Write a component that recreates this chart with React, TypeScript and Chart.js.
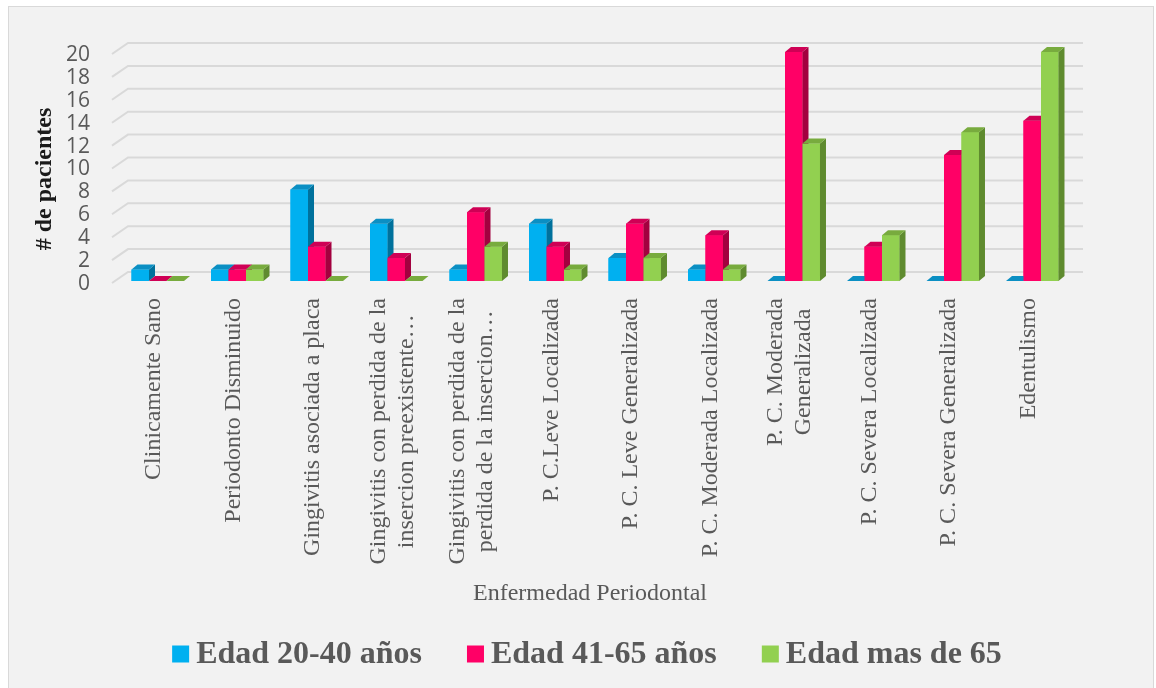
import React, { useEffect, useRef } from "react";
import { Chart, registerables } from "chart.js";

Chart.register(...registerables);

// Periodontal condition categories (multi-line entries are wrapped labels)
const categories: (string | string[])[] = [
  "Clinicamente Sano",
  "Periodonto Disminuido",
  "Gingivitis asociada a placa",
  ["Gingivitis con perdida de la", "insercion preexistente…"],
  ["Gingivitis con perdida de la", "perdida de la insercion…"],
  "P. C.Leve Localizada",
  "P. C. Leve Generalizada",
  "P. C. Moderada Localizada",
  ["P. C. Moderada", "Generalizada"],
  "P. C. Severa Localizada",
  "P. C. Severa Generalizada",
  "Edentulismo",
];

const seriesNames = ["Edad 20-40 años", "Edad 41-65 años", "Edad mas de 65"];

const edad20a40 = [1, 1, 8, 5, 1, 5, 2, 1, 0, 0, 0, 0];
const edad41a65 = [0, 1, 3, 2, 6, 3, 5, 4, 20, 3, 11, 14];
const edadMas65 = [0, 1, 0, 0, 3, 1, 2, 1, 12, 4, 13, 20];

const yTicks = [0, 2, 4, 6, 8, 10, 12, 14, 16, 18, 20];

const xTitle = "Enfermedad Periodontal";
const yTitle = "# de pacientes";

// front / top / side shades for each series
const palette = [
  { front: "#00B0F0", top: "#0b8fc3", side: "#00719c" },
  { front: "#FF0066", top: "#cf0055", side: "#a3003f" },
  { front: "#92D050", top: "#78ab3e", side: "#5f8b2f" },
];

const SERIF = "'Times New Roman', 'Liberation Serif', serif";
const TEXT_GRAY = "#595959";
const DEPTH_X = 6;
const DEPTH_Y = -5;

const framePlugin = {
  id: "frame",
  beforeDraw(chart: any) {
    const { ctx, width, height } = chart;
    ctx.save();
    ctx.fillStyle = "#ffffff";
    ctx.fillRect(0, 0, width, height);
    ctx.fillStyle = "#f2f2f2";
    ctx.fillRect(8, 6, 1146, height);
    ctx.strokeStyle = "#d9d9d9";
    ctx.lineWidth = 1;
    ctx.strokeRect(8.5, 6.5, 1145, height + 10);
    ctx.restore();
  },
};

// horizontal gridlines on the back wall with a slanted floor edge
const backGridPlugin = {
  id: "backGrid",
  beforeDatasetsDraw(chart: any) {
    const { ctx, chartArea } = chart;
    const y = chart.scales.y;
    ctx.save();
    ctx.strokeStyle = "#d9d9d9";
    ctx.lineWidth = 2;
    for (const v of yTicks) {
      const py = y.getPixelForValue(v);
      ctx.beginPath();
      ctx.moveTo(chartArea.left - 6, py + 2);
      ctx.lineTo(chartArea.left + 10, py - 9);
      ctx.lineTo(chartArea.right + 11, py - 9);
      ctx.stroke();
    }
    ctx.restore();
  },
};

// redraws each bar as a box: front, right side and top faces
const boxBarsPlugin = {
  id: "boxBars",
  afterDatasetsDraw(chart: any) {
    const { ctx } = chart;
    const metas = chart.data.datasets.map((_: any, i: number) => chart.getDatasetMeta(i));
    const n = chart.data.labels.length;
    ctx.save();
    for (let i = 0; i < n; i++) {
      metas.forEach((meta: any, d: number) => {
        const el = meta.data[i];
        if (!el) return;
        const { x, y, base, width } = el.getProps(["x", "y", "base", "width"], true);
        const l = x - width / 2;
        const r = x + width / 2;
        const top = Math.min(y, base);
        const bottom = Math.max(y, base);
        const c = palette[d];
        if (bottom - top > 0.5) {
          ctx.fillStyle = c.front;
          ctx.fillRect(l, top, width, bottom - top);
          ctx.fillStyle = c.side;
          ctx.beginPath();
          ctx.moveTo(r, top);
          ctx.lineTo(r + DEPTH_X, top + DEPTH_Y);
          ctx.lineTo(r + DEPTH_X, bottom + DEPTH_Y);
          ctx.lineTo(r, bottom);
          ctx.closePath();
          ctx.fill();
        }
        ctx.fillStyle = c.top;
        ctx.beginPath();
        ctx.moveTo(l, top);
        ctx.lineTo(l + DEPTH_X, top + DEPTH_Y);
        ctx.lineTo(r + DEPTH_X, top + DEPTH_Y);
        ctx.lineTo(r, top);
        ctx.closePath();
        ctx.fill();
      });
    }
    ctx.restore();
  },
};

// rotated category labels, titles and legend
const textPlugin = {
  id: "texts",
  afterDraw(chart: any) {
    const { ctx, chartArea } = chart;
    const xs = chart.scales.x;
    ctx.save();
    ctx.fillStyle = TEXT_GRAY;
    ctx.font = `24px ${SERIF}`;
    ctx.textAlign = "center";
    ctx.textBaseline = "middle";
    const labelTop = chartArea.bottom + 17;
    categories.forEach((lab, i) => {
      const lines = Array.isArray(lab) ? lab : [lab];
      const px = xs.getPixelForTick(i) - 4;
      const w = Math.max(...lines.map((t) => ctx.measureText(t).width));
      ctx.save();
      ctx.translate(px, labelTop);
      ctx.rotate(-Math.PI / 2);
      lines.forEach((t, j) => {
        ctx.fillText(t, -w / 2, (j - (lines.length - 1) / 2) * 28);
      });
      ctx.restore();
    });

    // x axis title
    ctx.font = `24px ${SERIF}`;
    ctx.fillText(xTitle, 590, 594);

    // y axis title
    ctx.save();
    ctx.fillStyle = "#1a1a1a";
    ctx.font = `bold 24px ${SERIF}`;
    ctx.translate(45, 179);
    ctx.rotate(-Math.PI / 2);
    ctx.fillText(yTitle, 0, 0);
    ctx.restore();

    // legend
    ctx.font = `bold 32px ${SERIF}`;
    ctx.textAlign = "left";
    const box = 17;
    const gap = 7;
    const itemGap = 45;
    const widths = seriesNames.map((s) => ctx.measureText(s).width);
    const total = widths.reduce((a, b) => a + b, 0) + seriesNames.length * (box + gap) + itemGap * (seriesNames.length - 1);
    let lx = 587 - total / 2;
    const ly = 654;
    seriesNames.forEach((s, k) => {
      ctx.fillStyle = palette[k].front;
      ctx.fillRect(lx, ly - box / 2, box, box);
      ctx.fillStyle = TEXT_GRAY;
      ctx.fillText(s, lx + box + gap, ly + 1);
      lx += box + gap + widths[k] + itemGap;
    });
    ctx.restore();
  },
};

export default function App() {
  const canvasRef = useRef<HTMLCanvasElement | null>(null);

  useEffect(() => {
    const canvas = canvasRef.current;
    if (!canvas) return;
    const chart = new Chart(canvas, {
      type: "bar",
      data: {
        labels: categories as any,
        datasets: [
          { label: seriesNames[0], data: edad20a40, backgroundColor: palette[0].front },
          { label: seriesNames[1], data: edad41a65, backgroundColor: palette[1].front },
          { label: seriesNames[2], data: edadMas65, backgroundColor: palette[2].front },
        ],
      },
      options: {
        responsive: false,
        animation: false,
        devicePixelRatio: 1,
        layout: { padding: { left: 0, top: 52, right: 84, bottom: 0 } },
        datasets: { bar: { categoryPercentage: 0.66, barPercentage: 1.0 } },
        plugins: {
          legend: { display: false },
          tooltip: { enabled: false },
        },
        scales: {
          x: {
            grid: { display: false },
            border: { display: false },
            ticks: { display: false },
            afterFit: (s: any) => {
              s.height = 407;
            },
          },
          y: {
            min: 0,
            max: 20,
            grid: { display: false },
            border: { display: false },
            afterBuildTicks: (s: any) => {
              s.ticks = yTicks.map((v) => ({ value: v }));
            },
            ticks: {
              autoSkip: false,
              padding: 20,
              labelOffset: 3,
              color: TEXT_GRAY,
              font: { family: "'Open Sans', 'Liberation Sans', sans-serif", size: 21 },
            },
            afterFit: (s: any) => {
              s.width = 118;
            },
          },
        },
      },
      plugins: [framePlugin, backGridPlugin, boxBarsPlugin, textPlugin],
    });
    return () => chart.destroy();
  }, []);

  return (
    <div style={{ position: "absolute", left: 0, top: 0, width: 1156, height: 688 }}>
      <canvas ref={canvasRef} width={1156} height={688} />
    </div>
  );
}
